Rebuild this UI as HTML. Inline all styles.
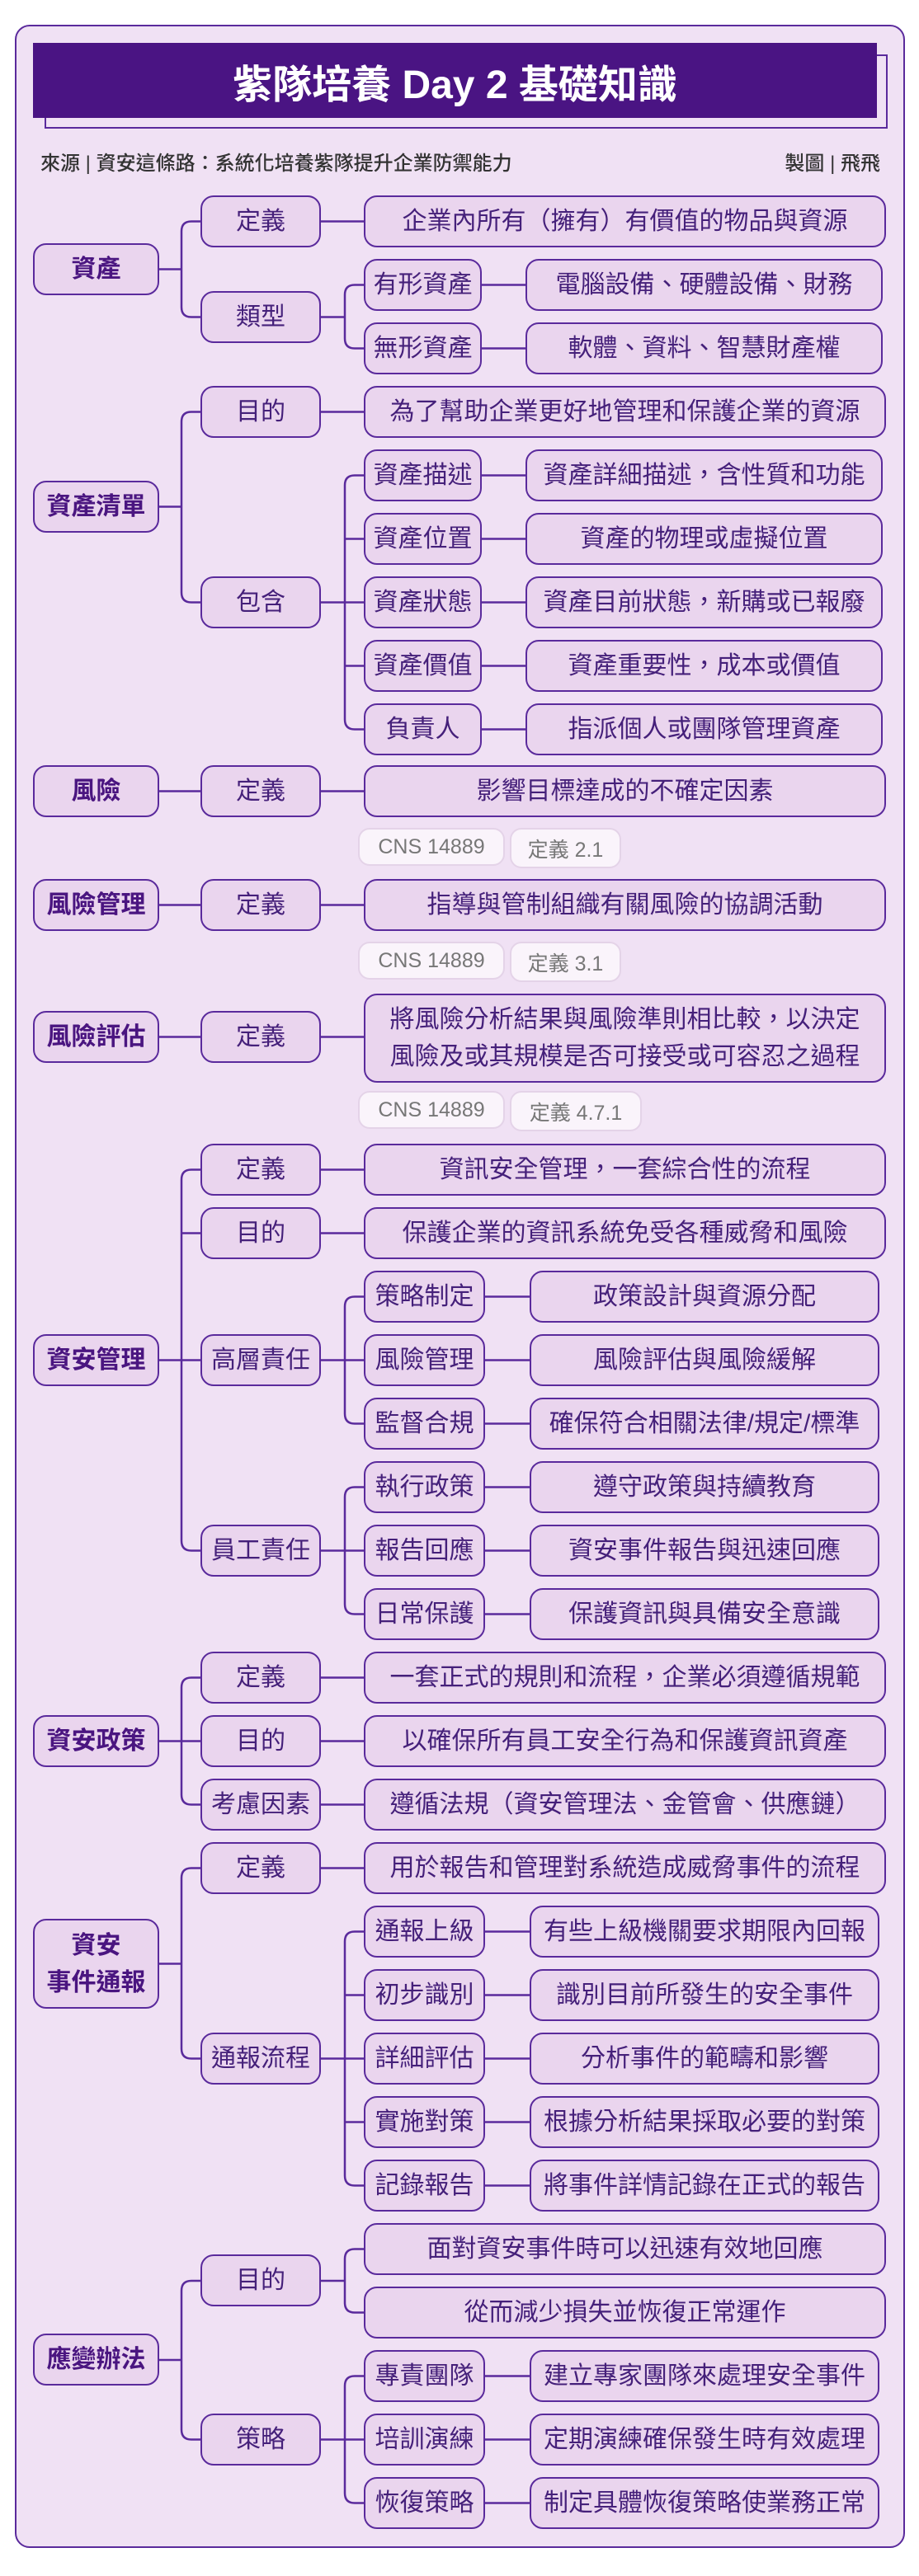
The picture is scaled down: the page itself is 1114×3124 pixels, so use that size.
<!DOCTYPE html>
<html><head><meta charset="utf-8">
<style>
*{margin:0;padding:0;box-sizing:border-box}
body{width:1114px;height:3124px;background:#fff;position:relative;font-family:"Liberation Sans","Noto Sans CJK TC",sans-serif;overflow:hidden}
.frame{position:absolute;left:18px;top:30px;width:1079px;height:3060px;background:#f0e1f4;border:2.5px solid #5a2a9c;border-radius:18px}
.n{position:absolute;display:flex;align-items:center;justify-content:center;text-align:center;background:#ead5ee;border:2.5px solid #5a2a9c;border-radius:16px;color:#45207a;font-size:30px;line-height:1.45;height:63px;white-space:nowrap}
.l1{left:40px;width:153px;font-weight:bold;color:#4a1580}
.l2{left:243px;width:146px}
.w{left:441px;width:633px}
.a3{left:441px;width:143px}
.a4{left:637px;width:433px}
.b3{left:441px;width:147px}
.b4{left:642px;width:424px}
.tag{position:absolute;height:46px;background:#faf4fb;border:2px solid #e4d3e8;border-radius:14px;color:#777;font-size:25px;display:flex;align-items:center;justify-content:center}
svg{position:absolute;left:0;top:0}
</style></head><body>
<div class="frame"></div>
<div style="position:absolute;left:54px;top:66px;width:1022px;height:90px;border:2px solid #5a2a9c"></div>
<div style="position:absolute;left:40px;top:52px;width:1023px;height:91px;background:#4a1483;color:#fff;font-weight:bold;font-size:48px;display:flex;align-items:center;justify-content:center">紫隊培養 Day 2 基礎知識</div>
<div style="position:absolute;left:49px;top:183px;font-size:24px;font-weight:500;color:#333;line-height:32px">來源 | 資安這條路：系統化培養紫隊提升企業防禦能力</div>
<div style="position:absolute;right:47px;top:183px;font-size:24px;font-weight:500;color:#333;line-height:32px">製圖 | 飛飛</div>

<svg width="1114" height="3124" fill="none" stroke="#5a2a9c" stroke-width="2.5">
<path d="M193 326.5H220M243 268.5H232Q220 268.5 220 280.5V372.5Q220 384.5 232 384.5H243"/>
<path d="M389 268.5H441M389 384.5H418M441 345.5H430Q418 345.5 418 357.5V410.5Q418 422.5 430 422.5H441M584 345.5H637M584 422.5H637"/>
<path d="M193 614.5H220M243 499.5H232Q220 499.5 220 511.5V718.5Q220 730.5 232 730.5H243M389 499.5H441"/>
<path d="M389 730.5H441M441 576.5H430Q418 576.5 418 588.5V872.5Q418 884.5 430 884.5H441M418 653.5H441M418 807.5H441"/>
<path d="M584 576.5H637M584 653.5H637M584 730.5H637M584 807.5H637M584 884.5H637"/>
<path d="M193 959.5H243M389 959.5H441M193 1097.5H243M389 1097.5H441M193 1257.5H243M389 1257.5H441"/>
<path d="M193 1649.5H243M243 1418.5H232Q220 1418.5 220 1430.5V1868.5Q220 1880.5 232 1880.5H243M220 1495.5H243"/>
<path d="M389 1418.5H441M389 1495.5H441M389 1649.5H441M441 1572.5H430Q418 1572.5 418 1584.5V1714.5Q418 1726.5 430 1726.5H441"/>
<path d="M389 1880.5H441M441 1803.5H430Q418 1803.5 418 1815.5V1945.5Q418 1957.5 430 1957.5H441"/>
<path d="M588 1572.5H642M588 1649.5H642M588 1726.5H642M588 1803.5H642M588 1880.5H642M588 1957.5H642"/>
<path d="M193 2111.5H243M243 2034.5H232Q220 2034.5 220 2046.5V2176.5Q220 2188.5 232 2188.5H243M389 2034.5H441M389 2111.5H441M389 2188.5H441"/>
<path d="M193 2381.5H220M243 2265.5H232Q220 2265.5 220 2277.5V2484.5Q220 2496.5 232 2496.5H243M389 2265.5H441"/>
<path d="M389 2496.5H441M441 2342.5H430Q418 2342.5 418 2354.5V2638.5Q418 2650.5 430 2650.5H441M418 2419.5H441M418 2573.5H441"/>
<path d="M588 2342.5H642M588 2419.5H642M588 2496.5H642M588 2573.5H642M588 2650.5H642"/>
<path d="M193 2862H220M243 2766H232Q220 2766 220 2778V2946.5Q220 2958.5 232 2958.5H243"/>
<path d="M389 2766H418M441 2727.5H430Q418 2727.5 418 2739.5V2792.5Q418 2804.5 430 2804.5H441"/>
<path d="M389 2958.5H441M441 2881.5H430Q418 2881.5 418 2893.5V3023.5Q418 3035.5 430 3035.5H441"/>
<path d="M588 2881.5H642M588 2958.5H642M588 3035.5H642"/>
</svg>

<div class="n l1" style="top:295px">資產</div>
<div class="n l2" style="top:237px">定義</div>
<div class="n w" style="top:237px">企業內所有（擁有）有價值的物品與資源</div>
<div class="n l2" style="top:353px">類型</div>
<div class="n a3" style="top:314px">有形資產</div>
<div class="n a4" style="top:314px">電腦設備、硬體設備、財務</div>
<div class="n a3" style="top:391px">無形資產</div>
<div class="n a4" style="top:391px">軟體、資料、智慧財產權</div>

<div class="n l1" style="top:583px">資產清單</div>
<div class="n l2" style="top:468px">目的</div>
<div class="n w" style="top:468px">為了幫助企業更好地管理和保護企業的資源</div>
<div class="n l2" style="top:699px">包含</div>
<div class="n a3" style="top:545px">資產描述</div>
<div class="n a4" style="top:545px">資產詳細描述，含性質和功能</div>
<div class="n a3" style="top:622px">資產位置</div>
<div class="n a4" style="top:622px">資產的物理或虛擬位置</div>
<div class="n a3" style="top:699px">資產狀態</div>
<div class="n a4" style="top:699px">資產目前狀態，新購或已報廢</div>
<div class="n a3" style="top:776px">資產價值</div>
<div class="n a4" style="top:776px">資產重要性，成本或價值</div>
<div class="n a3" style="top:853px">負責人</div>
<div class="n a4" style="top:853px">指派個人或團隊管理資產</div>

<div class="n l1" style="top:928px">風險</div>
<div class="n l2" style="top:928px">定義</div>
<div class="n w" style="top:928px">影響目標達成的不確定因素</div>
<div class="tag" style="left:434px;top:1004px;width:178px">CNS 14889</div>
<div class="tag" style="left:618px;top:1004px;width:135px;height:49px">定義 2.1</div>

<div class="n l1" style="top:1066px">風險管理</div>
<div class="n l2" style="top:1066px">定義</div>
<div class="n w" style="top:1066px">指導與管制組織有關風險的協調活動</div>
<div class="tag" style="left:434px;top:1142px;width:178px">CNS 14889</div>
<div class="tag" style="left:618px;top:1142px;width:135px;height:49px">定義 3.1</div>

<div class="n l1" style="top:1226px">風險評估</div>
<div class="n l2" style="top:1226px">定義</div>
<div class="n w" style="top:1205px;height:108px;line-height:1.5">將風險分析結果與風險準則相比較，以決定<br>風險及或其規模是否可接受或可容忍之過程</div>
<div class="tag" style="left:434px;top:1323px;width:178px">CNS 14889</div>
<div class="tag" style="left:618px;top:1323px;width:160px;height:49px">定義 4.7.1</div>

<div class="n l1" style="top:1618px">資安管理</div>
<div class="n l2" style="top:1387px">定義</div>
<div class="n w" style="top:1387px">資訊安全管理，一套綜合性的流程</div>
<div class="n l2" style="top:1464px">目的</div>
<div class="n w" style="top:1464px">保護企業的資訊系統免受各種威脅和風險</div>
<div class="n l2" style="top:1618px">高層責任</div>
<div class="n b3" style="top:1541px">策略制定</div>
<div class="n b4" style="top:1541px">政策設計與資源分配</div>
<div class="n b3" style="top:1618px">風險管理</div>
<div class="n b4" style="top:1618px">風險評估與風險緩解</div>
<div class="n b3" style="top:1695px">監督合規</div>
<div class="n b4" style="top:1695px">確保符合相關法律/規定/標準</div>
<div class="n l2" style="top:1849px">員工責任</div>
<div class="n b3" style="top:1772px">執行政策</div>
<div class="n b4" style="top:1772px">遵守政策與持續教育</div>
<div class="n b3" style="top:1849px">報告回應</div>
<div class="n b4" style="top:1849px">資安事件報告與迅速回應</div>
<div class="n b3" style="top:1926px">日常保護</div>
<div class="n b4" style="top:1926px">保護資訊與具備安全意識</div>

<div class="n l1" style="top:2080px">資安政策</div>
<div class="n l2" style="top:2003px">定義</div>
<div class="n w" style="top:2003px">一套正式的規則和流程，企業必須遵循規範</div>
<div class="n l2" style="top:2080px">目的</div>
<div class="n w" style="top:2080px">以確保所有員工安全行為和保護資訊資產</div>
<div class="n l2" style="top:2157px">考慮因素</div>
<div class="n w" style="top:2157px">遵循法規（資安管理法、金管會、供應鏈）</div>

<div class="n l1" style="top:2327px;height:109px;white-space:normal;line-height:1.5">資安<br>事件通報</div>
<div class="n l2" style="top:2234px">定義</div>
<div class="n w" style="top:2234px">用於報告和管理對系統造成威脅事件的流程</div>
<div class="n l2" style="top:2465px">通報流程</div>
<div class="n b3" style="top:2311px">通報上級</div>
<div class="n b4" style="top:2311px">有些上級機關要求期限內回報</div>
<div class="n b3" style="top:2388px">初步識別</div>
<div class="n b4" style="top:2388px">識別目前所發生的安全事件</div>
<div class="n b3" style="top:2465px">詳細評估</div>
<div class="n b4" style="top:2465px">分析事件的範疇和影響</div>
<div class="n b3" style="top:2542px">實施對策</div>
<div class="n b4" style="top:2542px">根據分析結果採取必要的對策</div>
<div class="n b3" style="top:2619px">記錄報告</div>
<div class="n b4" style="top:2619px">將事件詳情記錄在正式的報告</div>

<div class="n l1" style="top:2830px">應變辦法</div>
<div class="n l2" style="top:2734px">目的</div>
<div class="n w" style="top:2696px">面對資安事件時可以迅速有效地回應</div>
<div class="n w" style="top:2773px">從而減少損失並恢復正常運作</div>
<div class="n l2" style="top:2927px">策略</div>
<div class="n b3" style="top:2850px">專責團隊</div>
<div class="n b4" style="top:2850px">建立專家團隊來處理安全事件</div>
<div class="n b3" style="top:2927px">培訓演練</div>
<div class="n b4" style="top:2927px">定期演練確保發生時有效處理</div>
<div class="n b3" style="top:3004px">恢復策略</div>
<div class="n b4" style="top:3004px">制定具體恢復策略使業務正常</div>
</body></html>
